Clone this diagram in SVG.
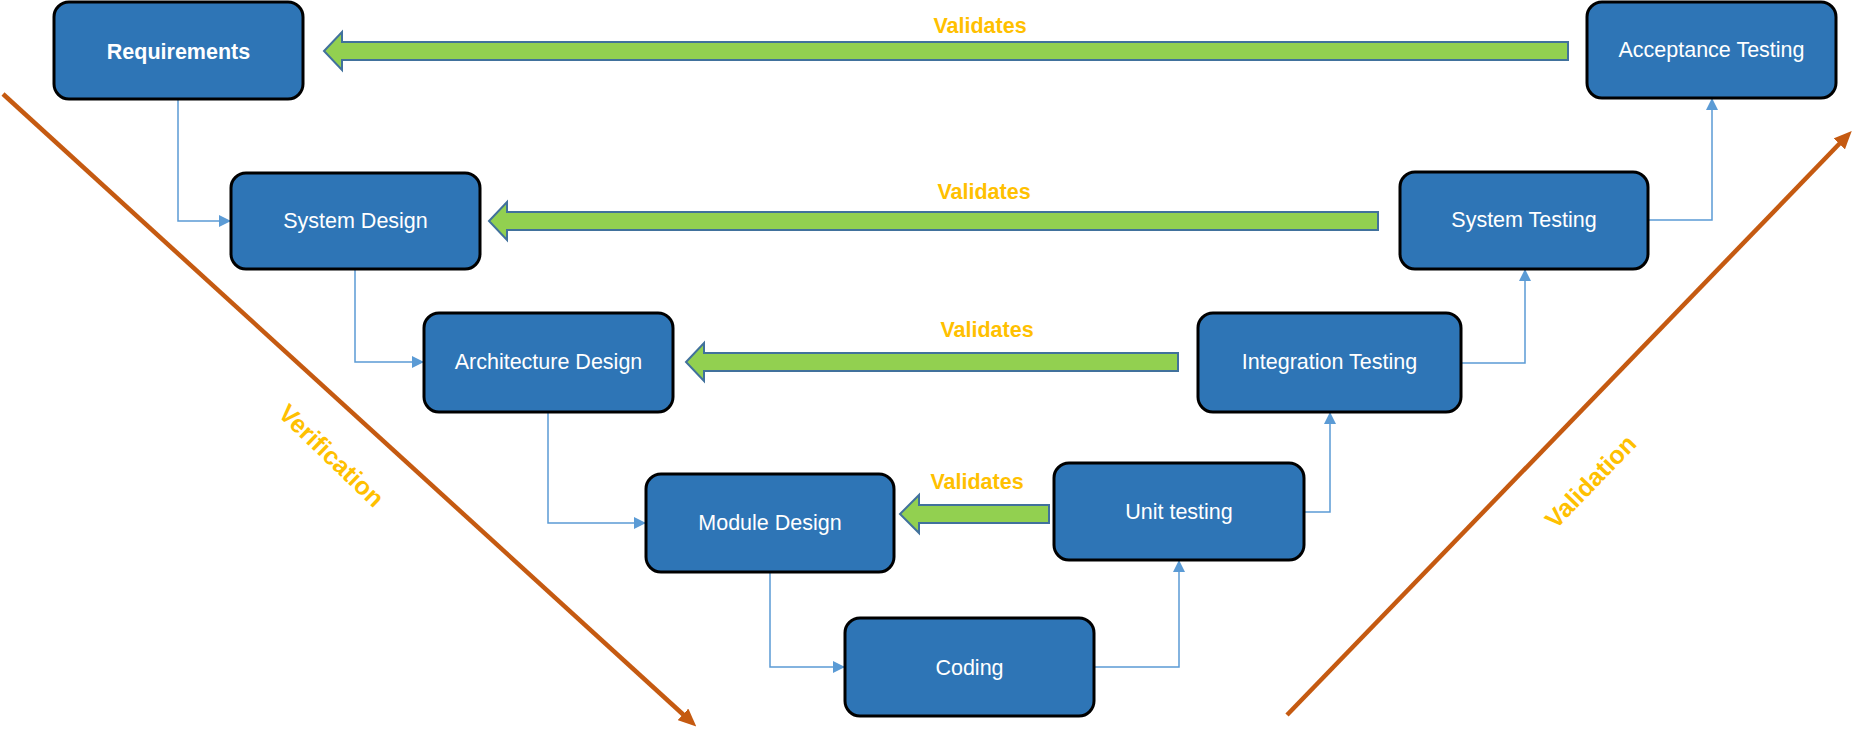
<svg xmlns="http://www.w3.org/2000/svg" width="1870" height="743" viewBox="0 0 1870 743">
<defs>
<style>
.box{fill:#2E75B6;stroke:#000;stroke-width:3}
.lbl{font-family:"Liberation Sans",Arial,sans-serif;font-size:21.5px;fill:#fff;text-anchor:middle}
.bold{font-weight:bold}
.conn{fill:none;stroke:#5B9BD5;stroke-width:1.5;marker-end:url(#blue)}
.val{fill:#92D050;stroke:#41719C;stroke-width:2}
.vtxt{font-family:"Liberation Sans",Arial,sans-serif;font-size:21.5px;font-weight:bold;fill:#FFC000;text-anchor:middle}
.big{font-size:25px}
.diag{stroke:#C55A11;stroke-width:4.5;fill:none;marker-end:url(#orange)}
</style>
<marker id="blue" markerUnits="userSpaceOnUse" markerWidth="12" markerHeight="12" viewBox="0 0 12 12" refX="12" refY="6" orient="auto">
<path d="M0,0 L12,6 L0,12 z" fill="#5B9BD5"/>
</marker>
<marker id="orange" markerWidth="4" markerHeight="3.5" viewBox="0 0 10 10" refX="3" refY="5" orient="auto" preserveAspectRatio="none">
<path d="M0,0 L10,5 L0,10 z" fill="#C55A11"/>
</marker>
</defs>
<rect width="1870" height="743" fill="#fff"/>

<g id="phase-lines">
<line class="diag" x1="3" y1="94" x2="687" y2="718"/>
<line class="diag" x1="1287" y1="715" x2="1843" y2="140"/>
<text class="vtxt big" transform="translate(331,456) rotate(44)" dy="8">Verification</text>
<text class="vtxt big" transform="translate(1591,482) rotate(-46)" dy="8">Validation</text>
</g>

<g id="connectors">
<path class="conn" d="M178,99 V221 H231"/>
<path class="conn" d="M355,269 V362 H424"/>
<path class="conn" d="M548,412 V523 H646"/>
<path class="conn" d="M770,572 V667 H845"/>
<path class="conn" d="M1094,667 H1179 V560"/>
<path class="conn" d="M1304,512 H1330 V412"/>
<path class="conn" d="M1461,363 H1525 V269"/>
<path class="conn" d="M1648,220 H1712 V98"/>
</g>

<g id="validates-arrows">
<polygon class="val" points="1568,42 342,42 342,32 324,51 342,70 342,60 1568,60"/>
<polygon class="val" points="1378,212 507,212 507,202 489,221 507,240 507,230 1378,230"/>
<polygon class="val" points="1178,353 704,353 704,343 686,362 704,381 704,371 1178,371"/>
<polygon class="val" points="1049,505 919,505 919,495 900,514 919,533 919,523 1049,523"/>
<text class="vtxt" x="980" y="33">Validates</text>
<text class="vtxt" x="984" y="199">Validates</text>
<text class="vtxt" x="987" y="337">Validates</text>
<text class="vtxt" x="977" y="489">Validates</text>
</g>

<g id="requirements">
<rect class="box" x="54" y="2" width="249" height="97" rx="15"/>
<text class="lbl bold" x="178.5" y="59">Requirements</text>
</g>
<g id="system-design">
<rect class="box" x="231" y="173" width="249" height="96" rx="15"/>
<text class="lbl" x="355.5" y="228">System Design</text>
</g>
<g id="architecture-design">
<rect class="box" x="424" y="313" width="249" height="99" rx="15"/>
<text class="lbl" x="548.5" y="369">Architecture Design</text>
</g>
<g id="module-design">
<rect class="box" x="646" y="474" width="248" height="98" rx="15"/>
<text class="lbl" x="770" y="530">Module Design</text>
</g>
<g id="coding">
<rect class="box" x="845" y="618" width="249" height="98" rx="15"/>
<text class="lbl" x="969.5" y="675">Coding</text>
</g>
<g id="unit-testing">
<rect class="box" x="1054" y="463" width="250" height="97" rx="15"/>
<text class="lbl" x="1179" y="519">Unit testing</text>
</g>
<g id="integration-testing">
<rect class="box" x="1198" y="313" width="263" height="99" rx="15"/>
<text class="lbl" x="1329.5" y="369">Integration Testing</text>
</g>
<g id="system-testing">
<rect class="box" x="1400" y="172" width="248" height="97" rx="15"/>
<text class="lbl" x="1524" y="227">System Testing</text>
</g>
<g id="acceptance-testing">
<rect class="box" x="1587" y="2" width="249" height="96" rx="15"/>
<text class="lbl" x="1711.5" y="57">Acceptance Testing</text>
</g>
</svg>
